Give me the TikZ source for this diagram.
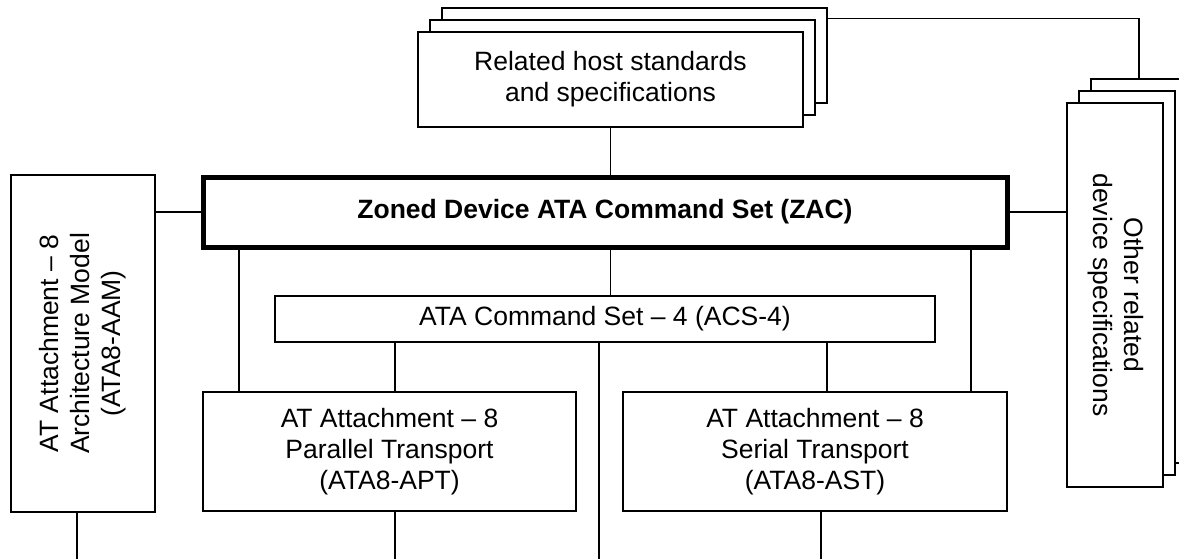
\documentclass[tikz,border=0pt]{standalone}
\usepackage{fontspec}
\setmainfont{Liberation Sans}
\usepackage{graphicx}
\usetikzlibrary{calc}
\tikzset{
  box/.style={draw, line width=1.5pt, fill=white, align=center, inner sep=0pt},
  sheet/.style={draw, line width=1.5pt, fill=white},
  link/.style={line width=1.5pt},
}

\begin{document}
\begin{tikzpicture}[x=1pt, y=-1pt, font=\fontsize{26.5}{31}\selectfont]
\useasboundingbox (0,0) rectangle (1179,558);
\clip (0,0) rectangle (1179,558);
% sheets stacked behind the two "related" boxes
\foreach \d in {24,12} {
  \draw[sheet] (418+\d,32-\d) rectangle (803+\d,127-\d);
  \draw[sheet] (1067+\d,103-\d) rectangle (1163+\d,487-\d);
}
\node[box, minimum width=385pt, minimum height=95pt] (host) at (610.5,79.5)
  {Related host standards\\and specifications};
\node[box, minimum width=96pt, minimum height=384pt] (other) at (1115,295)
  {\rotatebox{-90}{\begin{tabular}{@{}c@{}}Other related\\device specifications\end{tabular}}};
\node[box, minimum width=144pt, minimum height=337pt] (aam) at (83,343.5)
  {\rotatebox{90}{\begin{tabular}{@{}c@{}}AT Attachment -- 8\\Architecture Model\\(ATA8-AAM)\end{tabular}}};
\node[box, line width=5pt, minimum width=804pt, minimum height=70pt] (zac) at (605,212)
  {\textbf{Zoned Device ATA Command Set (ZAC)}};
\node[box, minimum width=660pt, minimum height=46pt] (acs) at (605,319)
  {ATA Command Set -- 4 (ACS-4)};
\node[box, minimum width=373pt, minimum height=119pt] (apt) at (389.5,451.5)
  {AT Attachment -- 8\\Parallel Transport\\(ATA8-APT)};
\node[box, minimum width=384pt, minimum height=119pt] (ast) at (815,451.5)
  {AT Attachment -- 8\\Serial Transport\\(ATA8-AST)};

% links
\draw[link] (host.south) -- (host.south |- zac.north);
\draw[link] (zac.west) -- (zac.west -| aam.east);
\draw[link] (zac.east) -- (zac.east -| other.west);
\draw[link] ($(host.north east)+(24,-13)$) -| ($(other.north)+(24,-24)$);
\draw[link] (host.south |- zac.south) -- (host.south |- acs.north);
\foreach \x/\n in {239/apt, 971/ast}
  \draw[link] (zac.south -| \x,0) -- (\n.north -| \x,0);
\foreach \x/\n in {395/apt, 827/ast}
  \draw[link] (acs.south -| \x,0) -- (\n.north -| \x,0);
% open ends running off the bottom
\foreach \x/\n in {77/aam, 395/apt, 599/acs, 821/ast}
  \draw[link] (\n.south -| \x,0) -- (\x,560);
\end{tikzpicture}
\end{document}
